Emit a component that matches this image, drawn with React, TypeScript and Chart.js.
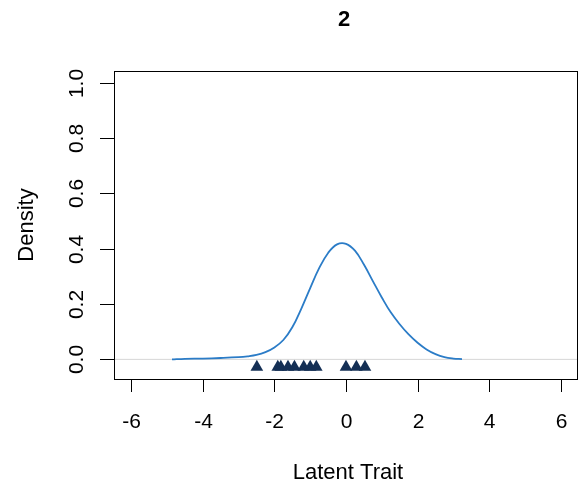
import React, { useEffect, useRef } from "react";
import { Chart, registerables } from "chart.js";

Chart.register(...registerables);

// Density curve of the latent trait
const curveX = [-4.86, -4.5, -4.0, -3.5, -3.0, -2.75, -2.5, -2.25, -2.0, -1.75, -1.5, -1.25, -1.0, -0.75, -0.5, -0.25, 0.0, 0.25, 0.5, 0.75, 1.0, 1.25, 1.5, 1.75, 2.0, 2.25, 2.5, 2.75, 3.0, 3.24];
const curveY = [0.0, 0.002, 0.003, 0.005, 0.008, 0.011, 0.016, 0.026, 0.043, 0.07, 0.116, 0.183, 0.258, 0.33, 0.385, 0.416, 0.418, 0.393, 0.343, 0.283, 0.224, 0.17, 0.127, 0.09, 0.06, 0.036, 0.019, 0.008, 0.003, 0.001];

// Observed trait locations, shown as a rug of triangles below zero
const markerX = [-2.49, -1.905, -1.82, -1.62, -1.44, -1.18, -1.0, -0.83, 0.0, 0.29, 0.53];
const markerLevel = -0.028;

const xTicks = [-6, -4, -2, 0, 2, 4, 6];
const yTicks = [0, 0.2, 0.4, 0.6, 0.8, 1.0];
const yTickLabels = ["0.0", "0.2", "0.4", "0.6", "0.8", "1.0"];
const xRange = [-6.48, 6.48];
const yRange = [-0.071, 1.043];

const titleText = "2";
const xTitle = "Latent Trait";
const yTitle = "Density";

const FONT = "'Liberation Sans', Arial, Helvetica, sans-serif";

const framePlugin = {
  id: "baseFrame",
  afterDraw(chart: any) {
    const ctx = chart.ctx as CanvasRenderingContext2D;
    const area = chart.chartArea;
    const xs = chart.scales.x;
    const ys = chart.scales.y;
    ctx.save();
    ctx.strokeStyle = "#000";
    ctx.lineWidth = 1;
    // plot box
    ctx.strokeRect(Math.round(area.left) + 0.5, Math.round(area.top) + 0.5,
      Math.round(area.right - area.left) - 1, Math.round(area.bottom - area.top));
    // x ticks
    ctx.fillStyle = "#000";
    ctx.font = `21px ${FONT}`;
    ctx.textAlign = "center";
    ctx.textBaseline = "alphabetic";
    for (const v of xTicks) {
      const px = Math.round(xs.getPixelForValue(v)) + 0.5;
      ctx.beginPath();
      ctx.moveTo(px, area.bottom);
      ctx.lineTo(px, area.bottom + 13);
      ctx.stroke();
      ctx.fillText(String(v), px, 428);
    }
    // y ticks (labels rotated, as in base graphics)
    yTicks.forEach((v, i) => {
      const py = Math.round(ys.getPixelForValue(v)) + 0.5;
      ctx.beginPath();
      ctx.moveTo(area.left - 14, py);
      ctx.lineTo(area.left, py);
      ctx.stroke();
      ctx.save();
      ctx.translate(83, py);
      ctx.rotate(-Math.PI / 2);
      ctx.textAlign = "center";
      ctx.fillText(yTickLabels[i], 0, 0);
      ctx.restore();
    });
    // axis titles
    const cx = (area.left + area.right) / 2;
    const cy = (area.top + area.bottom) / 2;
    ctx.font = `22px ${FONT}`;
    ctx.fillText(xTitle, cx + 2, 479);
    ctx.save();
    ctx.translate(33, cy);
    ctx.rotate(-Math.PI / 2);
    ctx.fillText(yTitle, 0, 0);
    ctx.restore();
    // main title
    ctx.font = `bold 22px ${FONT}`;
    ctx.fillText(titleText, cx - 2, 26);
    ctx.restore();
  },
};

export default function App() {
  const ref = useRef<HTMLCanvasElement | null>(null);

  useEffect(() => {
    if (!ref.current) return;
    const chart = new Chart(ref.current, {
      type: "line",
      data: {
        datasets: [
          {
            label: "markers",
            data: markerX.map((x) => ({ x, y: markerLevel })),
            showLine: false,
            pointStyle: "triangle",
            pointRadius: 7.3,
            pointHoverRadius: 7.3,
            pointBackgroundColor: "#142f55",
            pointBorderWidth: 0,
            borderWidth: 0,
          },
          {
            label: "density",
            data: curveX.map((x, i) => ({ x, y: curveY[i] })),
            borderColor: "#2b7cc7",
            borderWidth: 1.8,
            pointRadius: 0,
            tension: 0.4,
            fill: false,
          },
          {
            label: "zero",
            data: [{ x: xRange[0], y: 0 }, { x: xRange[1], y: 0 }],
            borderColor: "#d6d6d6",
            borderWidth: 1,
            pointRadius: 0,
          },
        ],
      },
      options: {
        responsive: false,
        animation: false,
        events: [],
        layout: { autoPadding: false, padding: { left: 114, right: 1, top: 71, bottom: 110 } },
        plugins: {
          legend: { display: false },
          tooltip: { enabled: false },
          title: { display: false },
        },
        scales: {
          x: { type: "linear", min: xRange[0], max: xRange[1], display: false },
          y: { type: "linear", min: yRange[0], max: yRange[1], display: false },
        },
      },
      plugins: [framePlugin],
    });
    return () => chart.destroy();
  }, []);

  return (
    <div style={{ position: "absolute", left: 0, top: 0, width: 579, height: 489, background: "#fff" }}>
      <canvas ref={ref} width={579} height={489} style={{ display: "block" }} />
    </div>
  );
}
